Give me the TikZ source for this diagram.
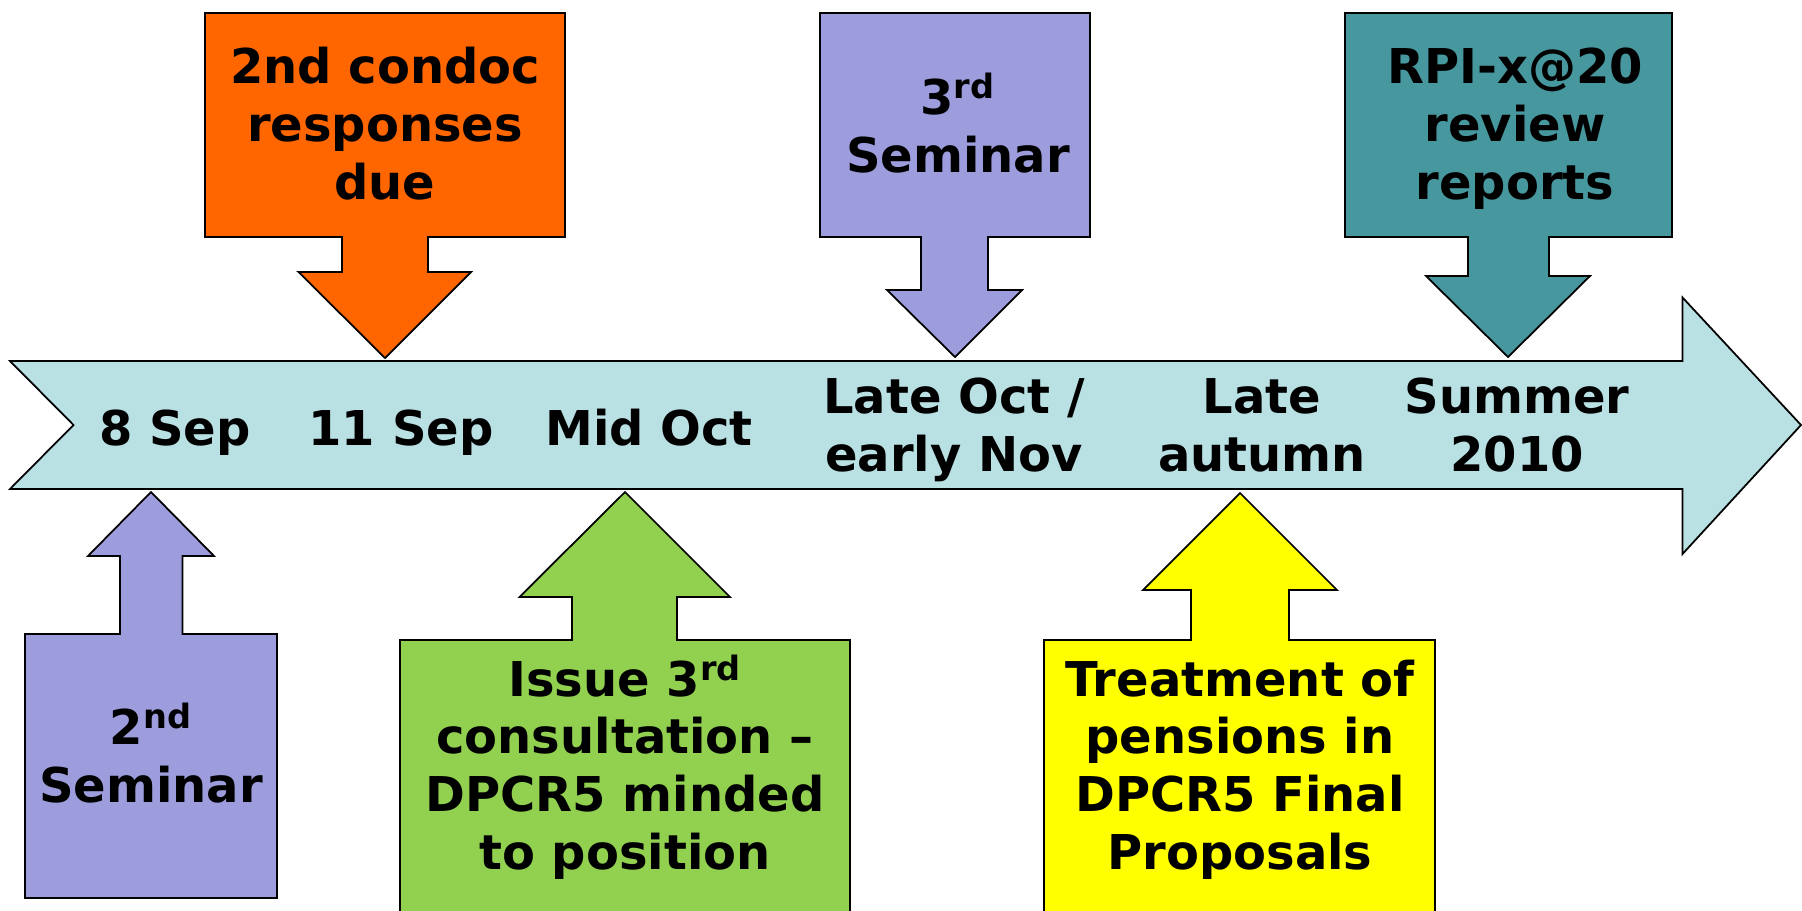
\documentclass[tikz,border=0pt]{standalone}
\usepackage{fontspec}
\setmainfont{DejaVu Sans}
\definecolor{timeline}{RGB}{185,224,227}
\definecolor{condoc}{RGB}{255,102,0}
\definecolor{seminar}{RGB}{157,157,221}
\definecolor{review}{RGB}{70,151,158}
\definecolor{issue}{RGB}{146,208,80}
\definecolor{finalprop}{RGB}{255,255,0}

\begin{document}
\begin{tikzpicture}
[x=0.02cm,y=-0.02cm,line width=1pt,%
  every node/.style={align=center,anchor=base,inner sep=0pt},%
  callout/.style={draw=black,line join=miter}]
\fontsize{27.3}{32.8}\selectfont\bfseries
\clip (0,0) rectangle (1802,910);
% timeline arrow
\filldraw[callout,fill=timeline] (10,361) -- (1682.5,361) -- (1682.5,297.5)
  -- (1801,425) -- (1682.5,554) -- (1682.5,489) -- (10,489) -- (73.5,425) -- cycle;
% callouts above the timeline
\filldraw[callout,fill=condoc] (205,13) -- (565,13) -- (565,237) -- (428,237)
  -- (428,272) -- (471,272) -- (385,358) -- (298.5,272) -- (342,272)
  -- (342,237) -- (205,237) -- cycle;
\filldraw[callout,fill=seminar] (820,13) -- (1090,13) -- (1090,237) -- (988,237)
  -- (988,290) -- (1022,290) -- (955,357) -- (887,290) -- (921,290)
  -- (921,237) -- (820,237) -- cycle;
\filldraw[callout,fill=review] (1345,13) -- (1672,13) -- (1672,237) -- (1549,237)
  -- (1549,276) -- (1590,276) -- (1508,357) -- (1426,276) -- (1468,276)
  -- (1468,237) -- (1345,237) -- cycle;
% callouts below the timeline
\filldraw[callout,fill=seminar] (151,492) -- (214,556) -- (182.5,556) -- (182.5,634)
  -- (277,634) -- (277,898) -- (25,898) -- (25,634) -- (120,634)
  -- (120,556) -- (88,556) -- cycle;
\filldraw[callout,fill=issue] (625,492) -- (730,597) -- (677,597) -- (677,640)
  -- (850,640) -- (850,930) -- (400,930) -- (400,640) -- (572,640)
  -- (572,597) -- (519.5,597) -- cycle;
\filldraw[callout,fill=finalprop] (1240,493) -- (1337,590) -- (1289,590) -- (1289,640)
  -- (1435,640) -- (1435,930) -- (1044,930) -- (1044,640) -- (1191,640)
  -- (1191,590) -- (1143,590) -- cycle;
% dates (base = last line)
\node (sep8) at (175,445) {8 Sep};
\node (sep11) at (401,445) {11 Sep};
\node (midoct) at (649,445) {Mid Oct};
\node (lateoct) at (954,471) {Late Oct /\\early Nov};
\node (lateaut) at (1262,471) {Late\\autumn};
\node (summer) at (1517,471) {Summer\\2010};
% callout texts
\node (condoc) at (385,199) {2nd condoc\\responses\\due};
\node (sem3) at (958,172) {3\textsuperscript{rd}\\Seminar};
\node (rpix) at (1515,199) {RPI-x@20\\review\\reports};
\node (sem2) at (151,802) {2\textsuperscript{nd}\\Seminar};
\node (issue) at (625,869) {Issue 3\textsuperscript{rd}\\consultation –\\DPCR5 minded\\to position};
\node (pensions) at (1240,869) {Treatment of\\pensions in\\DPCR5 Final\\Proposals};
\end{tikzpicture}
\end{document}
